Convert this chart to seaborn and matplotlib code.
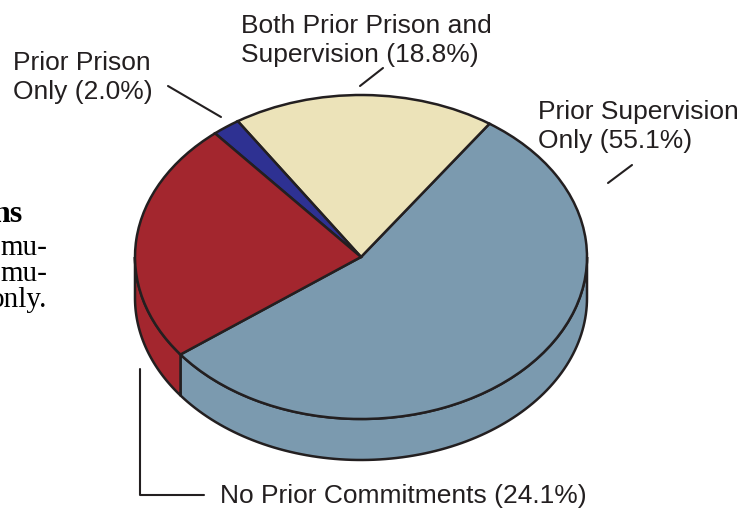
import numpy as np
import matplotlib.pyplot as plt
from matplotlib.lines import Line2D
import seaborn as sns

# slices, counter-clockwise from the front-left edge
shares = [55.1, 18.8, 2.0, 24.1]
labels = ["Prior Supervision\nOnly (55.1%)",
          "Both Prior Prison and\nSupervision (18.8%)",
          "Prior Prison\nOnly (2.0%)",
          "No Prior Commitments (24.1%)"]
colors = ["#7b9aaf", "#ece3b9", "#2e3192", "#a3262e"]
start_angle = 217
depth = 0.253   # thickness of the disc, in radii

sns.set_theme(style="white")
plt.rcParams["font.family"] = ["Liberation Sans", "DejaVu Sans"]

W, H = 755, 508
fig = plt.figure(figsize=(W / 100, H / 100), dpi=100)
ax = fig.add_axes([0, 0, 1, 1])
edge = "#231f20"

# top face
ax.pie(shares, colors=colors, startangle=start_angle, counterclock=True,
       wedgeprops=dict(edgecolor=edge, linewidth=1.8), radius=1)

# side wall: front half of every wedge
bounds = start_angle + np.concatenate([[0], np.cumsum(shares)]) * 3.6
for a0, a1, c in zip(bounds[:-1], bounds[1:], colors):
    for k in (0, 360):
        lo, hi = max(a0, 180 + k), min(a1, 360 + k)
        if hi <= lo:
            continue
        t = np.radians(np.linspace(lo, hi, 100))
        xs = np.concatenate([np.cos(t), np.cos(t[::-1])])
        ys = np.concatenate([np.sin(t), np.sin(t[::-1]) - depth])
        ax.fill(xs, ys, facecolor=c, edgecolor=edge, linewidth=1.8, zorder=0)

ax.set_aspect("auto")
ax.set_xlim(-361 / 226, (W - 361) / 226)
ax.set_ylim((257 - H) / 162, 257 / 162)
ax.axis("off")


def fx(x):
    return x / W


def fy(y):
    return 1 - y / H


def leader(pts):
    xs, ys = zip(*pts)
    fig.add_artist(Line2D([fx(v) for v in xs], [fy(v) for v in ys],
                          color=edge, linewidth=1.5, transform=fig.transFigure))


# y = baseline of the last line
txt = dict(fontsize=19, color="#231f20", va="baseline", linespacing=1.26)
fig.text(fx(538), fy(148), labels[0], ha="left", **txt)
fig.text(fx(241), fy(62), labels[1], ha="left", **txt)
fig.text(fx(13), fy(99), labels[2], ha="left", **txt)
fig.text(fx(220), fy(503), labels[3], ha="left", **txt)

leader([(632, 165), (608, 183)])
leader([(383, 68), (360, 86)])
leader([(168, 86), (221, 117)])
leader([(140, 369), (140, 495), (204, 495)])

# body text from the neighbouring column, cut off by the crop
serif = dict(family=["Liberation Serif", "DejaVu Serif"],
             color="black", ha="right", va="baseline")
fig.text(fx(22), fy(222), "ns", fontweight="bold", fontsize=23, **serif)
fig.text(fx(47), fy(255), "mu-", fontsize=21, **serif)
fig.text(fx(47), fy(281), "mu-", fontsize=21, **serif)
fig.text(fx(47), fy(307), "only.", fontsize=21, **serif)

fig.savefig("out.png", dpi=100)
